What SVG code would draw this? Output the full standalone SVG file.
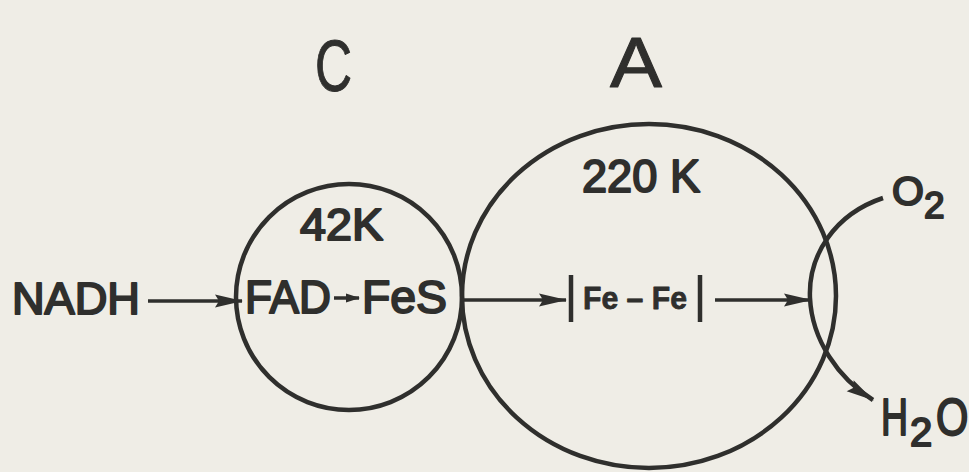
<svg xmlns="http://www.w3.org/2000/svg" width="969" height="472" viewBox="0 0 969 472">
<style>
.ink{fill:none;stroke:#2f2f2d;}
.t{font-family:"Liberation Sans","DejaVu Sans",sans-serif;fill:#2f2f2d;stroke:#2f2f2d;stroke-width:2;stroke-linejoin:round;}
.big{stroke-width:1;}
.b{font-weight:bold;stroke-width:0.8;}
</style>
<defs>
<marker id="ah" markerUnits="userSpaceOnUse" viewBox="0 0 28 14" markerWidth="28" markerHeight="14" refX="27" refY="7" orient="auto">
<path d="M0,0.5 L28,7 L0,13.5 L4,7 z" fill="#2f2f2d"/>
</marker>
<marker id="ahs" markerUnits="userSpaceOnUse" viewBox="0 0 14 10" markerWidth="14" markerHeight="10" refX="13" refY="5" orient="auto">
<path d="M0,0.5 L14,5 L0,9.5 z" fill="#2f2f2d"/>
</marker>
</defs>
<rect width="969" height="472" fill="#efede6"/>
<g id="label-C"><text class="t big" x="315" y="91" font-size="72" textLength="37" lengthAdjust="spacingAndGlyphs">C</text></g>
<g id="label-A"><text class="t big" x="610" y="87" font-size="70" textLength="52" lengthAdjust="spacingAndGlyphs">A</text></g>
<g id="node-C">
<circle class="ink" cx="349" cy="297" r="113" stroke-width="4.5"/>
<text class="t" x="300" y="240" font-size="44" textLength="83" lengthAdjust="spacingAndGlyphs">42K</text>
<text class="t" x="245" y="313" font-size="46" textLength="86" lengthAdjust="spacingAndGlyphs">FAD</text>
<text class="t" x="362" y="313" font-size="46" textLength="85" lengthAdjust="spacingAndGlyphs">FeS</text>
</g>
<g id="node-A">
<ellipse class="ink" cx="649" cy="296" rx="187" ry="172" stroke-width="4.5"/>
<text class="t" x="582" y="192" font-size="47" textLength="118" lengthAdjust="spacingAndGlyphs">220 K</text>
<line class="ink" x1="571" y1="275" x2="571" y2="322" stroke-width="4.5"/>
<text class="t b" x="583" y="309" font-size="32" textLength="104" lengthAdjust="spacingAndGlyphs">Fe – Fe</text>
<line class="ink" x1="700" y1="275" x2="700" y2="322" stroke-width="4.5"/>
</g>
<g id="node-NADH"><text class="t" x="12" y="314" font-size="45" textLength="128" lengthAdjust="spacingAndGlyphs">NADH</text></g>
<g id="node-O2">
<text class="t" x="892" y="205" font-size="41">O</text>
<text class="t" x="924" y="218" font-size="37">2</text>
</g>
<g id="node-H2O">
<text class="t" transform="translate(881,435) scale(0.72,1)" font-size="52">H</text>
<text class="t" x="910" y="446" font-size="40">2</text>
<text class="t" transform="translate(936,435) scale(0.8,1)" font-size="52">O</text>
</g>
<g id="connectors">
<line class="ink" x1="148" y1="301" x2="242" y2="301" stroke-width="3.5" marker-end="url(#ah)"/>
<line class="ink" x1="334" y1="298" x2="359" y2="298" stroke-width="3.5" marker-end="url(#ahs)"/>
<line class="ink" x1="461" y1="300" x2="566" y2="300" stroke-width="3.5" marker-end="url(#ah)"/>
<line class="ink" x1="715" y1="300" x2="811" y2="300" stroke-width="3.5" marker-end="url(#ah)"/>
<path class="ink" d="M883,198 C835,214 808,255 810,298 C812,340 838,378 873,400" stroke-width="4.5" marker-end="url(#ah)"/>
</g>
</svg>
